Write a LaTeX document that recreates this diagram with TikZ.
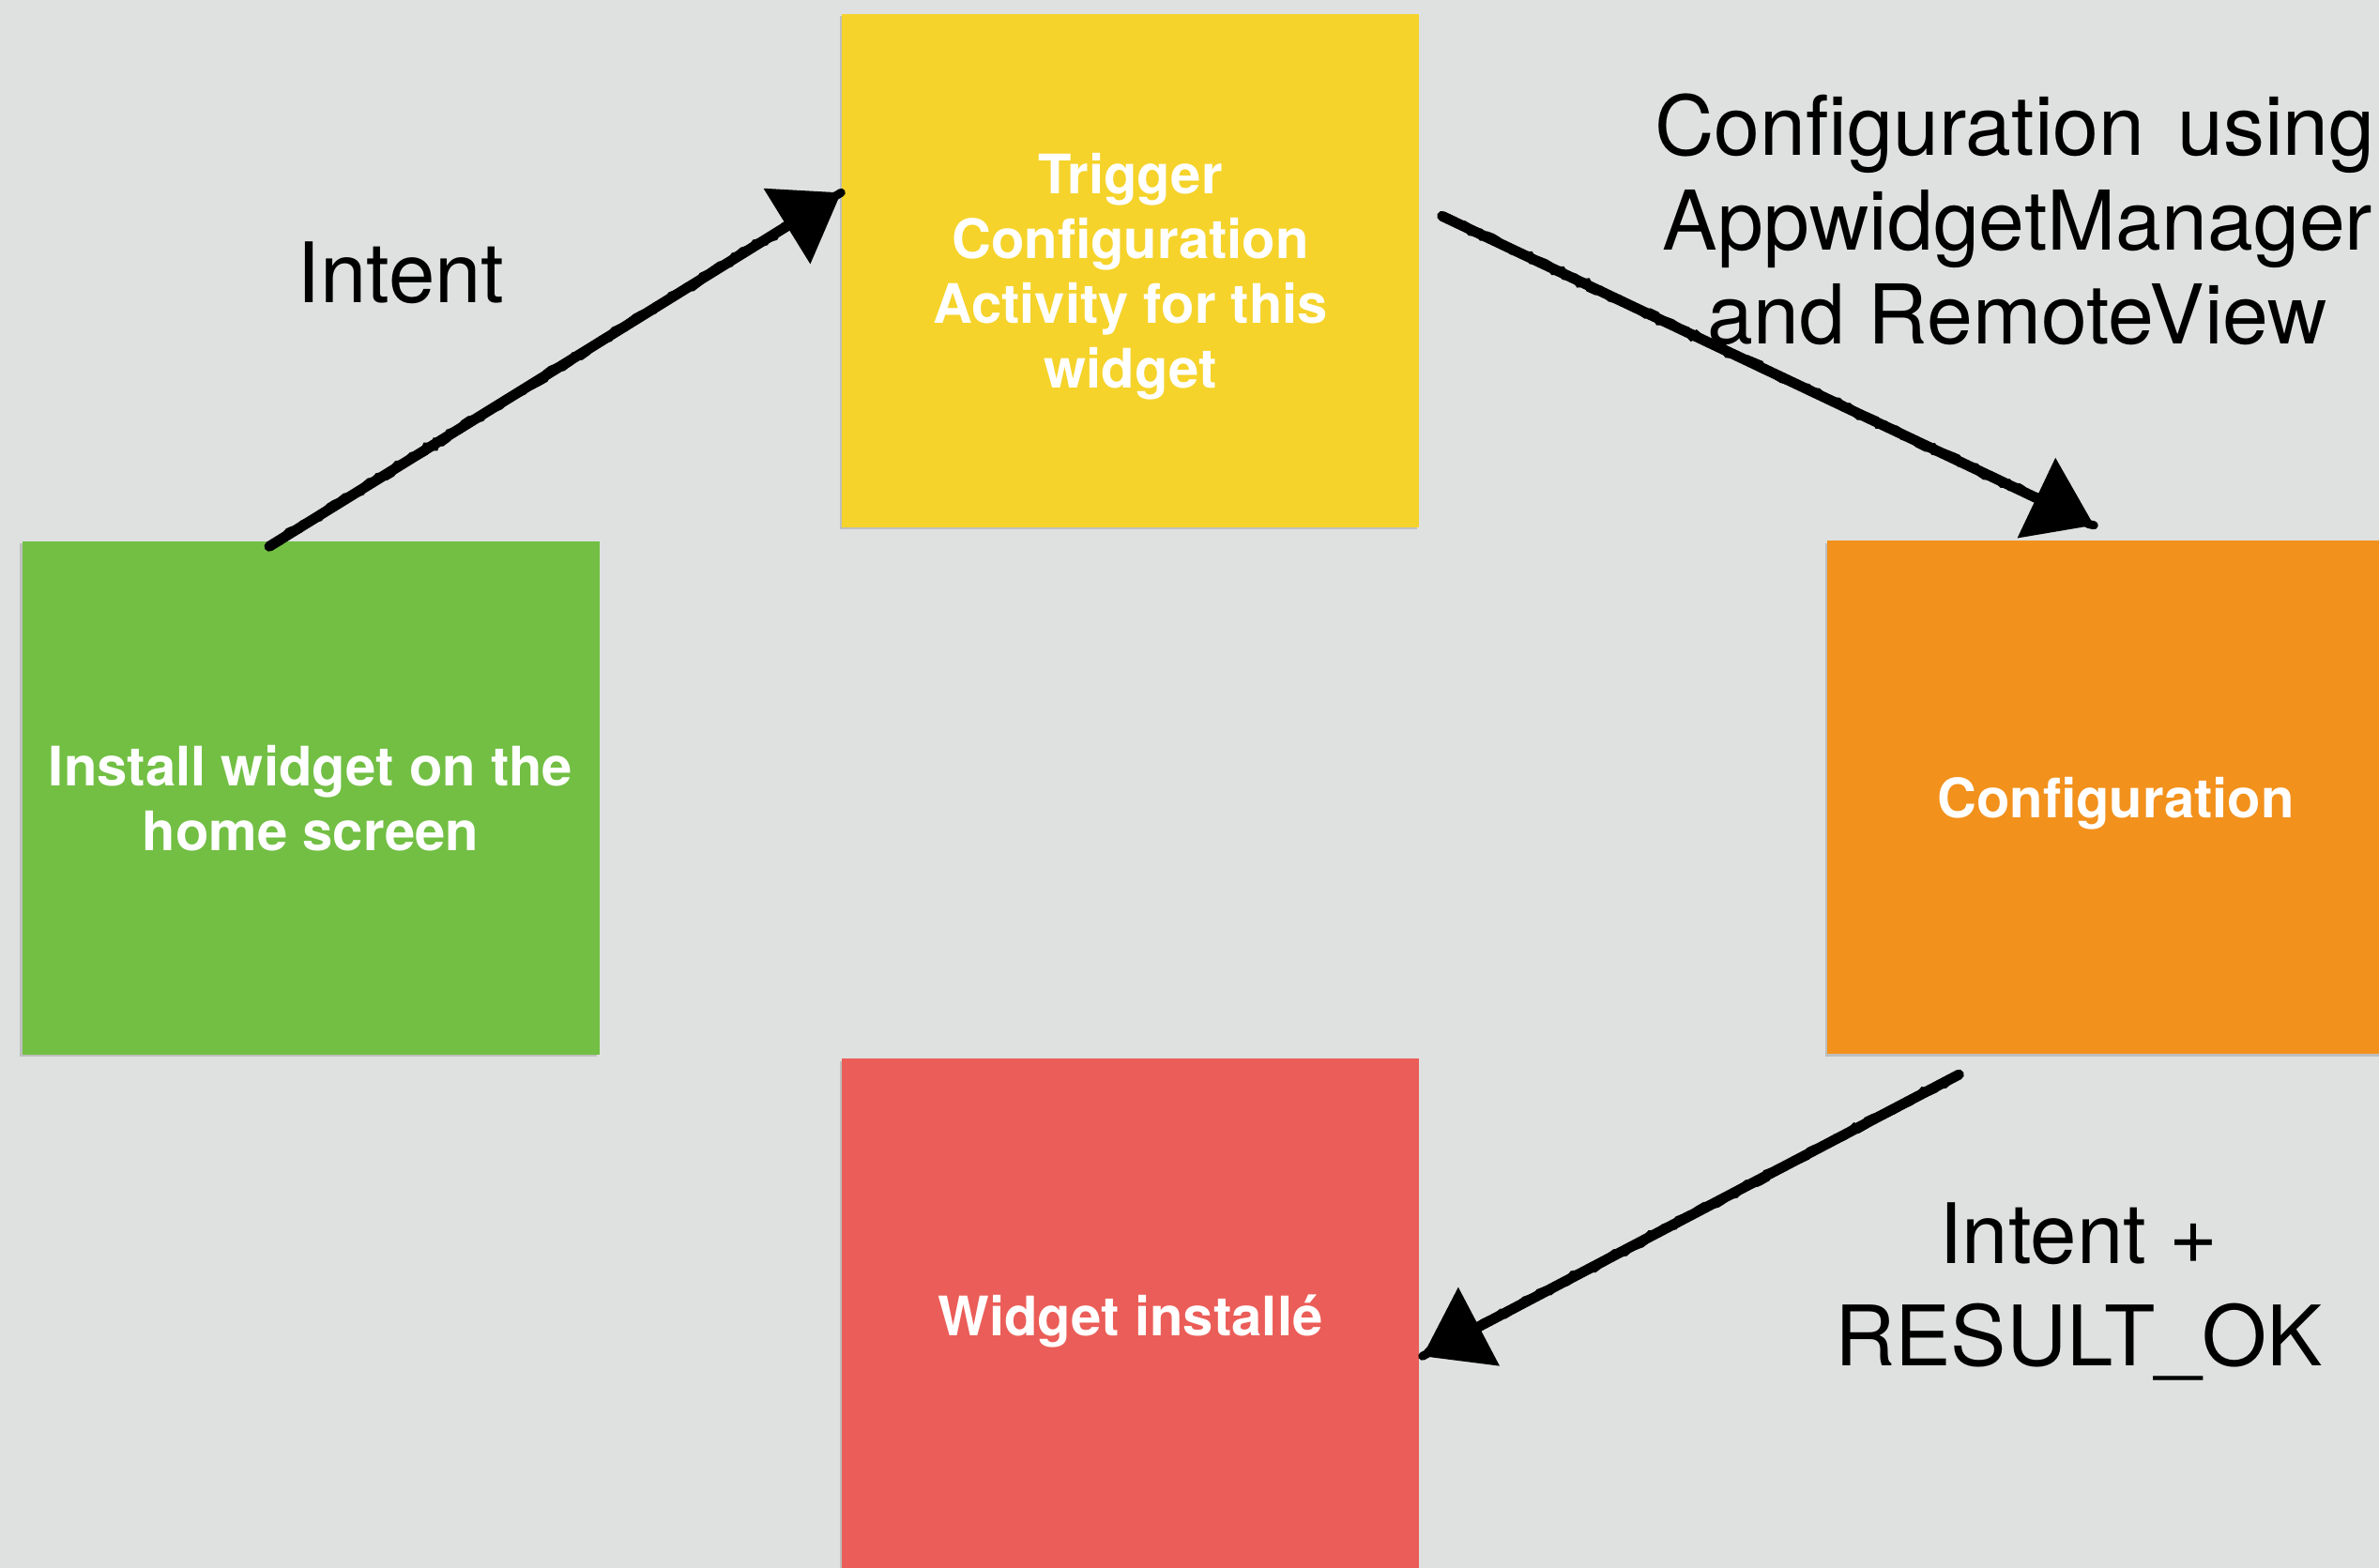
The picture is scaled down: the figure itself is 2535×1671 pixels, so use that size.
\documentclass[tikz,border=0pt]{standalone}
\usepackage{fontspec}
\setmainfont{TeX Gyre Heros}
\usetikzlibrary{arrows.meta,calc,decorations.pathmorphing,shadows}

\definecolor{bgc}{HTML}{DFE1E0}
\definecolor{yelbox}{HTML}{F5D32B}
\definecolor{grnbox}{HTML}{72BF44}
\definecolor{orgbox}{HTML}{F2911C}
\definecolor{redbox}{HTML}{EB5D58}

\tikzset{
  stepbox/.style={minimum width=61.5mm, minimum height=54.7mm, inner sep=0pt,
    text=white, align=center, text depth=0pt,
    font=\bfseries\fontsize{16.5}{19.6}\selectfont,
    drop shadow={shadow xshift=-0.25mm, shadow yshift=-0.25mm, opacity=0.35}},
  biglabel/.style={anchor=base, inner sep=0pt, text=black, font=\fontsize{25.3}{30}\selectfont},
  midlabel/.style={anchor=base, inner sep=0pt, text=black, font=\fontsize{25}{29}\selectfont},
  marker/.style={line width=1.1mm, line cap=round, black,
    -{Triangle[length=6.8mm,width=9.2mm]},
    postaction={draw, -, line width=0.9mm, decorate,
      decoration={random steps, segment length=0.6mm, amplitude=0.22mm}}}
}

\begin{document}
\begin{tikzpicture}[x=0.1mm, y=-0.1mm]
  \pgfmathsetseed{7}
  \useasboundingbox (0,0) rectangle (2535,1671);
  \clip (0,0) rectangle (2535,1671);

  % backdrop
  \fill[bgc] (0,0) rectangle (2535,1671);

  % the four stages
  \node[stepbox, fill=yelbox] (trig) at (1204.5,288.5)
    {Trigger\\Configuration\\Activity for this\\widget};
  \node[stepbox, fill=grnbox] (inst) at (331,850.5)
    {Install widget on the\\home screen};
  \node[stepbox, fill=orgbox] (conf) at (2254.5,850)
    {Configuration};
  \node[stepbox, fill=redbox] (done) at (1204.5,1401.5)
    {Widget install\'e};

  % hand-drawn connectors
  \draw[marker] ($(inst.north)+(-44,6)$) -- ($(trig.north west)+(0,191)$);
  \draw[marker] ($(trig.north east)+(24,216)$) -- ($(conf.north west)+(285,-16)$);
  \draw[marker] ($(conf.south west)+(141,21)$) -- ($(done.north east)+(3,318)$);

  % connector labels
  \node[biglabel] (lblintent) at (427,323) {Intent};
  \node[midlabel, anchor=base east] (lblcfgA) at (2531,166) {Configuration\hspace{0.12em} using};
  \node[midlabel] (lblcfgB) at (2150,267) {AppwidgetManager};
  \node[midlabel] (lblcfgC) at (2150,367) {and RemoteView};
  \node[biglabel] (lblokA) at (2215,1346) {Intent +};
  \node[biglabel] (lblokB) at (2215,1455) {RESULT\_OK};
\end{tikzpicture}
\end{document}
